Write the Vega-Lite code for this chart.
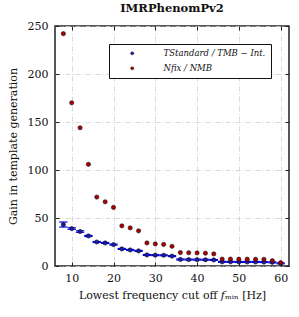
{
  "$schema": "https://vega.github.io/schema/vega-lite/v6.json",
  "width": 234,
  "height": 240,
  "autosize": "none",
  "padding": {"left": 55, "top": 26, "right": 10, "bottom": 51},
  "config": {
    "font": "DejaVu Serif",
    "view": {"stroke": "#222", "strokeWidth": 1.5},
    "axis": {
      "labelFont": "DejaVu Serif", "labelFontSize": 11, "labelColor": "#111",
      "titleFont": "DejaVu Serif", "titleFontSize": 11, "titleFontWeight": "normal", "titleColor": "#111",
      "domain": false, "tickColor": "#222", "tickSize": -4, "tickWidth": 1,
      "gridColor": "#cfcfcf", "gridDash": [5, 2, 1, 2], "gridWidth": 0.8
    }
  },
  "title": {"text": "IMRPhenomPv2", "font": "DejaVu Serif", "fontSize": 11.5, "fontWeight": "bold", "color": "#111", "offset": 6},
  "data": {"values": [
    {"f": 8, "series": "T", "v": 43.2, "lo": 40.6, "hi": 45.8, "flo": 7, "fhi": 9},
    {"f": 10, "series": "T", "v": 39.0, "lo": 38.2, "hi": 39.8, "flo": 9, "fhi": 11},
    {"f": 12, "series": "T", "v": 35.9, "lo": 35.1, "hi": 36.7, "flo": 11, "fhi": 13},
    {"f": 14, "series": "T", "v": 31.3, "lo": 30.7, "hi": 31.9, "flo": 13, "fhi": 15},
    {"f": 16, "series": "T", "v": 25.0, "lo": 24.5, "hi": 25.5, "flo": 15, "fhi": 17},
    {"f": 18, "series": "T", "v": 24.0, "lo": 23.5, "hi": 24.5, "flo": 17, "fhi": 19},
    {"f": 20, "series": "T", "v": 22.3, "lo": 21.8, "hi": 22.8, "flo": 19, "fhi": 21},
    {"f": 22, "series": "T", "v": 17.8, "lo": 17.3, "hi": 18.3, "flo": 21, "fhi": 23},
    {"f": 24, "series": "T", "v": 16.7, "lo": 16.2, "hi": 17.2, "flo": 23, "fhi": 25},
    {"f": 26, "series": "T", "v": 15.7, "lo": 15.2, "hi": 16.2, "flo": 25, "fhi": 27},
    {"f": 28, "series": "T", "v": 11.5, "lo": 11.0, "hi": 12.0, "flo": 27, "fhi": 29},
    {"f": 30, "series": "T", "v": 11.3, "lo": 10.8, "hi": 11.8, "flo": 29, "fhi": 31},
    {"f": 32, "series": "T", "v": 11.2, "lo": 10.7, "hi": 11.7, "flo": 31, "fhi": 33},
    {"f": 34, "series": "T", "v": 10.3, "lo": 9.8, "hi": 10.8, "flo": 33, "fhi": 35},
    {"f": 36, "series": "T", "v": 6.8, "lo": 6.3, "hi": 7.3, "flo": 35, "fhi": 37},
    {"f": 38, "series": "T", "v": 6.7, "lo": 6.2, "hi": 7.2, "flo": 37, "fhi": 39},
    {"f": 40, "series": "T", "v": 6.6, "lo": 6.1, "hi": 7.1, "flo": 39, "fhi": 41},
    {"f": 42, "series": "T", "v": 6.5, "lo": 6.0, "hi": 7.0, "flo": 41, "fhi": 43},
    {"f": 44, "series": "T", "v": 6.3, "lo": 5.8, "hi": 6.8, "flo": 43, "fhi": 45},
    {"f": 46, "series": "T", "v": 4.3, "lo": 3.8, "hi": 4.8, "flo": 45, "fhi": 47},
    {"f": 48, "series": "T", "v": 4.3, "lo": 3.8, "hi": 4.8, "flo": 47, "fhi": 49},
    {"f": 50, "series": "T", "v": 4.2, "lo": 3.7, "hi": 4.7, "flo": 49, "fhi": 51},
    {"f": 52, "series": "T", "v": 4.2, "lo": 3.7, "hi": 4.7, "flo": 51, "fhi": 53},
    {"f": 54, "series": "T", "v": 4.2, "lo": 3.7, "hi": 4.7, "flo": 53, "fhi": 55},
    {"f": 56, "series": "T", "v": 4.1, "lo": 3.6, "hi": 4.6, "flo": 55, "fhi": 57},
    {"f": 58, "series": "T", "v": 3.8, "lo": 3.3, "hi": 4.3, "flo": 57, "fhi": 59},
    {"f": 60, "series": "T", "v": 2.8, "lo": 2.3, "hi": 3.3, "flo": 59, "fhi": 61},
    {"f": 8, "series": "N", "v": 242},
    {"f": 10, "series": "N", "v": 170},
    {"f": 12, "series": "N", "v": 144},
    {"f": 14, "series": "N", "v": 105.9},
    {"f": 16, "series": "N", "v": 71.8},
    {"f": 18, "series": "N", "v": 66.9},
    {"f": 20, "series": "N", "v": 61},
    {"f": 22, "series": "N", "v": 41.8},
    {"f": 24, "series": "N", "v": 39.7},
    {"f": 26, "series": "N", "v": 36.6},
    {"f": 28, "series": "N", "v": 24},
    {"f": 30, "series": "N", "v": 23},
    {"f": 32, "series": "N", "v": 22.5},
    {"f": 34, "series": "N", "v": 20.5},
    {"f": 36, "series": "N", "v": 14},
    {"f": 38, "series": "N", "v": 13.8},
    {"f": 40, "series": "N", "v": 13.6},
    {"f": 42, "series": "N", "v": 13.3},
    {"f": 44, "series": "N", "v": 12.6},
    {"f": 46, "series": "N", "v": 7.2},
    {"f": 48, "series": "N", "v": 7.2},
    {"f": 50, "series": "N", "v": 7.1},
    {"f": 52, "series": "N", "v": 7.1},
    {"f": 54, "series": "N", "v": 7},
    {"f": 56, "series": "N", "v": 7},
    {"f": 58, "series": "N", "v": 5.5},
    {"f": 60, "series": "N", "v": 3.4}
  ]},
  "resolve": {"axis": {"x": "independent", "y": "independent"}},
  "layer": [
    {
      "transform": [{"filter": "datum.series === 'T'"}],
      "mark": {"type": "rule", "color": "#0000ff", "strokeWidth": 1.2},
      "encoding": {
        "x": {"field": "flo", "type": "quantitative", "scale": {"domain": [6, 62], "nice": false},
              "axis": {"orient": "bottom", "values": [10, 20, 30, 40, 50, 60], "title": "Lowest frequency cut off 𝑓ₘᵢₙ [Hz]", "titlePadding": 6, "labelPadding": 10}},
        "x2": {"field": "fhi"},
        "y": {"field": "lo", "type": "quantitative", "scale": {"domain": [0, 250], "nice": false},
              "axis": {"orient": "left", "values": [0, 50, 100, 150, 200, 250], "title": "Gain in template generation", "titlePadding": 9, "labelPadding": 11}}
      }
    },
    {
      "transform": [{"filter": "datum.series === 'T'"}],
      "mark": {"type": "rule", "color": "#0000ff", "strokeWidth": 1.2},
      "encoding": {
        "x": {"field": "flo", "type": "quantitative", "axis": {"orient": "top", "values": [10, 20, 30, 40, 50, 60], "labels": false, "grid": false, "title": null}},
        "x2": {"field": "fhi"},
        "y": {"field": "hi", "type": "quantitative", "axis": {"orient": "right", "values": [0, 50, 100, 150, 200, 250], "labels": false, "grid": false, "title": null}}
      }
    },
    {
      "transform": [{"filter": "datum.series === 'T'"}],
      "mark": {"type": "rule", "color": "#0000ff", "strokeWidth": 1.2},
      "encoding": {
        "x": {"field": "f", "type": "quantitative", "axis": null},
        "y": {"field": "lo", "type": "quantitative", "axis": null},
        "y2": {"field": "hi"}
      }
    },
    {
      "mark": {"type": "point", "filled": true, "size": 18, "stroke": "#111", "strokeWidth": 0.6, "opacity": 1},
      "encoding": {
        "x": {"field": "f", "type": "quantitative", "axis": null},
        "y": {"field": "v", "type": "quantitative", "axis": null},
        "color": {"field": "series", "type": "nominal",
          "scale": {"domain": ["T", "N"], "range": ["#1c1c9c", "#b00000"]},
          "legend": {
            "orient": "top-right", "offsetX": 8, "offsetY": -6,
            "title": null, "strokeColor": "#111", "fillColor": "white", "padding": 5,
            "labelExpr": "datum.value === 'T' ? 'TStandard / TMB − Int.' : 'Nfix / NMB'",
            "labelFont": "DejaVu Serif", "labelFontSize": 8.5, "labelFontStyle": "italic", "labelColor": "#111", "labelLimit": 200,
            "symbolSize": 10, "symbolStrokeColor": "#111", "symbolStrokeWidth": 0.4,
            "labelOffset": 27, "rowPadding": 6, "symbolOffset": 14
          }
        }
      }
    }
  ]
}
